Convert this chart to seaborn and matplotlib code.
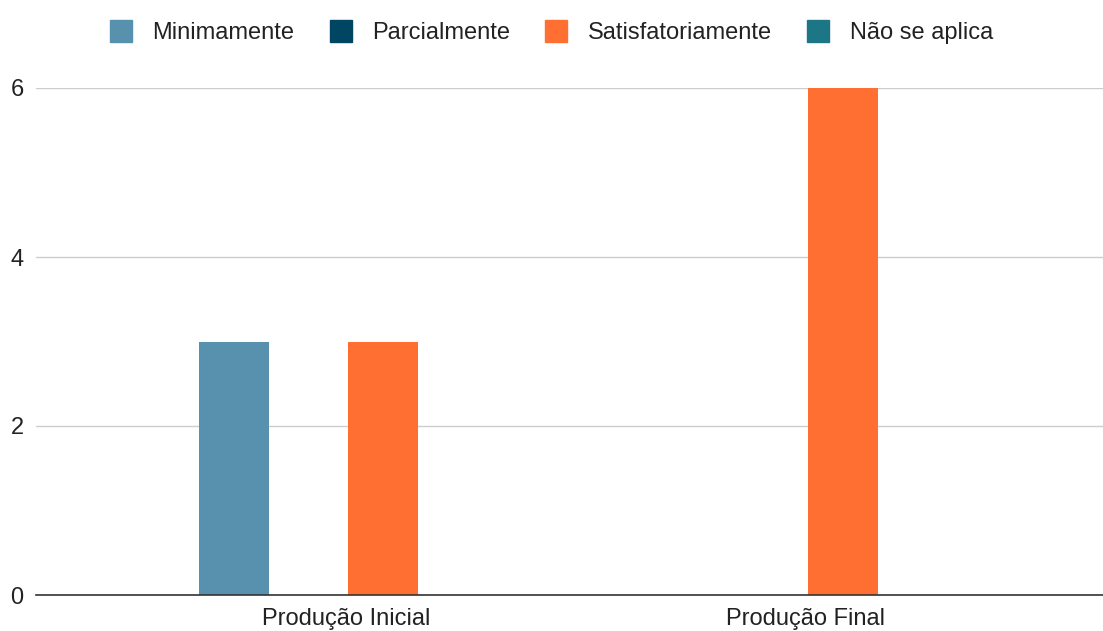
import matplotlib.pyplot as plt
import seaborn as sns
import pandas as pd
from matplotlib.lines import Line2D

# Data
categories = ['Produção Inicial', 'Produção Final']
series = ['Minimamente', 'Parcialmente', 'Satisfatoriamente', 'Não se aplica']
minimamente = [3, 0]
parcialmente = [0, 0]
satisfatoriamente = [3, 6]
nao_se_aplica = [0, 0]
colors = ['#5891AD', '#004561', '#FF6F31', '#1C7685']

rows = []
for s, vals in zip(series, [minimamente, parcialmente, satisfatoriamente, nao_se_aplica]):
    for c, v in zip(categories, vals):
        rows.append({'categoria': c, 'nivel': s, 'valor': v})
df = pd.DataFrame(rows)

sns.set_style('white')
plt.rcParams['font.family'] = ['Liberation Sans', 'DejaVu Sans']

fig = plt.figure(figsize=(11.03, 6.31), dpi=100)
ax = fig.add_axes([36 / 1103, 36 / 631, 1067 / 1103, 507 / 631])

sns.barplot(data=df, x='categoria', y='valor', hue='nivel', order=categories,
            hue_order=series, palette=colors, saturation=1, width=0.648, gap=0.06,
            linewidth=0, legend=False, ax=ax, zorder=3)

ax.set_xlim(-0.674, 1.646)
ax.set_ylim(0, 6)
ax.set_yticks([0, 2, 4, 6])
ax.yaxis.grid(True, color='#cccccc', linewidth=1, zorder=0)
ax.set_axisbelow(True)
for sp in ['top', 'right', 'left']:
    ax.spines[sp].set_visible(False)
ax.spines['bottom'].set_color('#333333')
ax.spines['bottom'].set_linewidth(1.2)
ax.spines['bottom'].set_zorder(4)
ax.tick_params(axis='both', length=0, labelsize=17, colors='#222222')
ax.tick_params(axis='x', pad=9)
ax.tick_params(axis='y', pad=9)
ax.set_xlabel('')
ax.set_ylabel('')
for p in ax.patches:
    p.set_clip_on(False)

handles = [Line2D([0], [0], marker='s', linestyle='', markersize=16,
                  markerfacecolor=c, markeredgecolor=c, label=s)
           for s, c in zip(series, colors)]
fig.legend(handles=handles, loc='center', bbox_to_anchor=(550 / 1103, 1 - 33 / 631),
           ncol=4, frameon=False, fontsize=17, handletextpad=0.75,
           columnspacing=1.35, handlelength=1.2, labelcolor='#222222')

fig.savefig('out.png', dpi=100)
plt.close()
